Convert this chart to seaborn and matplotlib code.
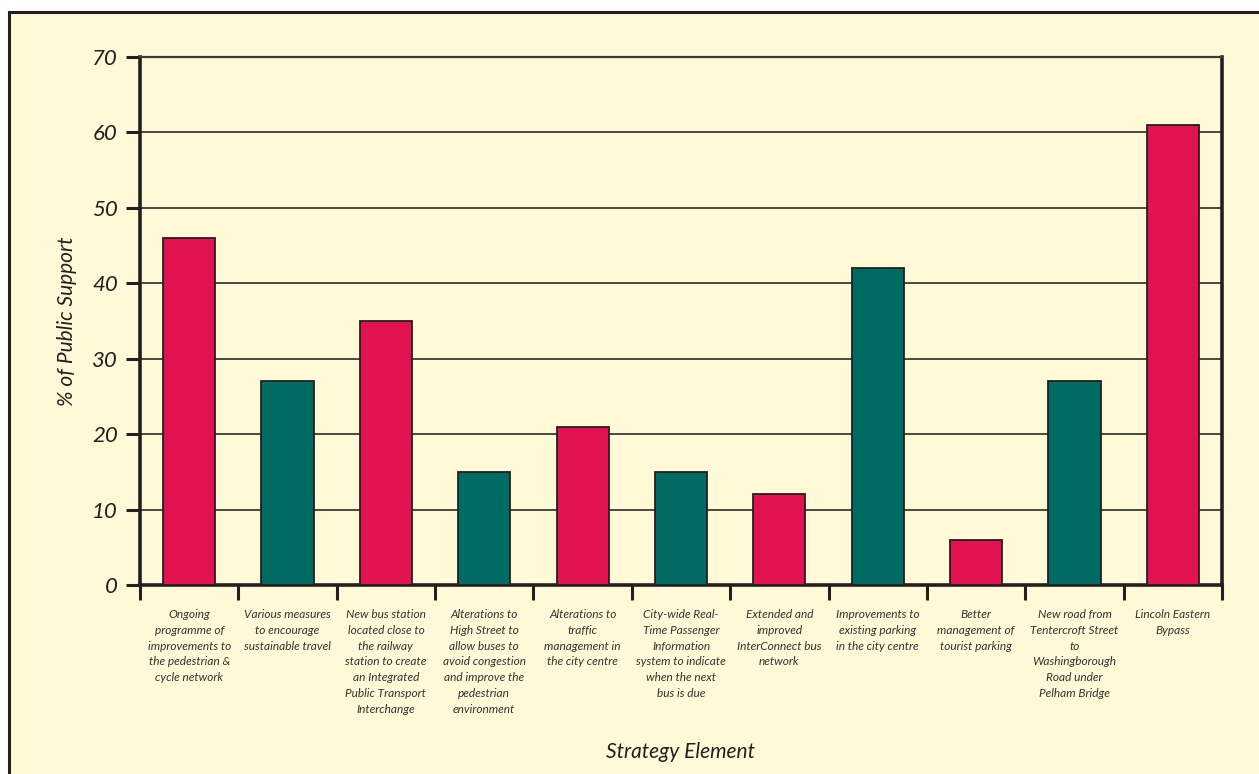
import matplotlib
matplotlib.use("Agg")
import matplotlib.pyplot as plt
from matplotlib.patches import Rectangle
from matplotlib.ticker import FixedLocator
import seaborn as sns
import pandas as pd

categories = [
    "Ongoing\nprogramme of\nimprovements to\nthe pedestrian &\ncycle network",
    "Various measures\nto encourage\nsustainable travel",
    "New bus station\nlocated close to\nthe railway\nstation to create\nan Integrated\nPublic Transport\nInterchange",
    "Alterations to\nHigh Street to\nallow buses to\navoid congestion\nand improve the\npedestrian\nenvironment",
    "Alterations to\ntraffic\nmanagement in\nthe city centre",
    "City-wide Real-\nTime Passenger\nInformation\nsystem to indicate\nwhen the next\nbus is due",
    "Extended and\nimproved\nInterConnect bus\nnetwork",
    "Improvements to\nexisting parking\nin the city centre",
    "Better\nmanagement of\ntourist parking",
    "New road from\nTentercroft Street\nto\nWashingborough\nRoad under\nPelham Bridge",
    "Lincoln Eastern\nBypass",
]
support = [46, 27, 35, 15, 21, 15, 12, 42, 6, 27, 61]
group = ["a", "b", "a", "b", "a", "b", "a", "b", "a", "b", "a"]
yticks = [0, 10, 20, 30, 40, 50, 60, 70]

RED = "#E2114F"
TEAL = "#006B63"
PANEL = "#FFF9D7"
INK = "#231F20"

sns.set_theme(style="white")
plt.rcParams["font.family"] = ["Lato", "DejaVu Sans"]

fig = plt.figure(figsize=(12.59, 7.74), dpi=100)
fig.patch.set_facecolor("white")
fig.patches.append(Rectangle((9 / 1259, -0.01), 1.02, 1 - 12 / 774 + 0.01,
                             transform=fig.transFigure, facecolor=PANEL,
                             edgecolor=INK, linewidth=2.2, zorder=-5))

ax = fig.add_axes([140 / 1259, 1 - 585 / 774, (1222 - 140) / 1259, (585 - 57) / 774])
ax.set_facecolor(PANEL)

df = pd.DataFrame({"cat": categories, "val": support, "grp": group})
sns.barplot(data=df, x="cat", y="val", hue="grp", palette={"a": RED, "b": TEAL},
            dodge=False, width=0.53, saturation=1, edgecolor=INK, linewidth=1.3,
            legend=False, ax=ax, zorder=3)

ax.set_xlim(-0.5, len(categories) - 0.5)
ax.set_ylim(0, 70)
ax.set_yticks(yticks)
ax.set_yticklabels([str(t) for t in yticks], fontsize=16, style="italic", color=INK)
for t in yticks[1:-1]:
    ax.axhline(t, color="#3a3a36", linewidth=1.3, zorder=1)

for side in ["left", "bottom", "right"]:
    ax.spines[side].set_visible(True)
    ax.spines[side].set_color(INK)
    ax.spines[side].set_linewidth(2.6)
ax.spines["top"].set_visible(True)
ax.spines["top"].set_color("#3a3a36")
ax.spines["top"].set_linewidth(1.6)

ax.tick_params(axis="y", which="major", direction="out", length=10, width=2.2,
               color=INK, pad=6, left=True)
ax.xaxis.set_minor_locator(FixedLocator([i - 0.5 for i in range(len(categories) + 1)]))
ax.tick_params(axis="x", which="minor", direction="out", length=11, width=2.2,
               color=INK, bottom=True)
ax.tick_params(axis="x", which="major", length=0, pad=17)
ax.set_xticks(range(len(categories)))
ax.set_xticklabels(categories, fontsize=8.6, style="italic", color="#333333",
                   linespacing=1.55, va="top", ha="center")

ax.set_xlabel("Strategy Element", fontsize=15, style="italic", color=INK)
ax.xaxis.set_label_coords(0.5, (585 - 742) / 528)
ax.set_ylabel("% of Public Support", fontsize=15, style="italic", color=INK)
ax.yaxis.set_label_coords((77 - 140) / 1082, 0.5)

fig.savefig("out.png", dpi=100, facecolor="white")
